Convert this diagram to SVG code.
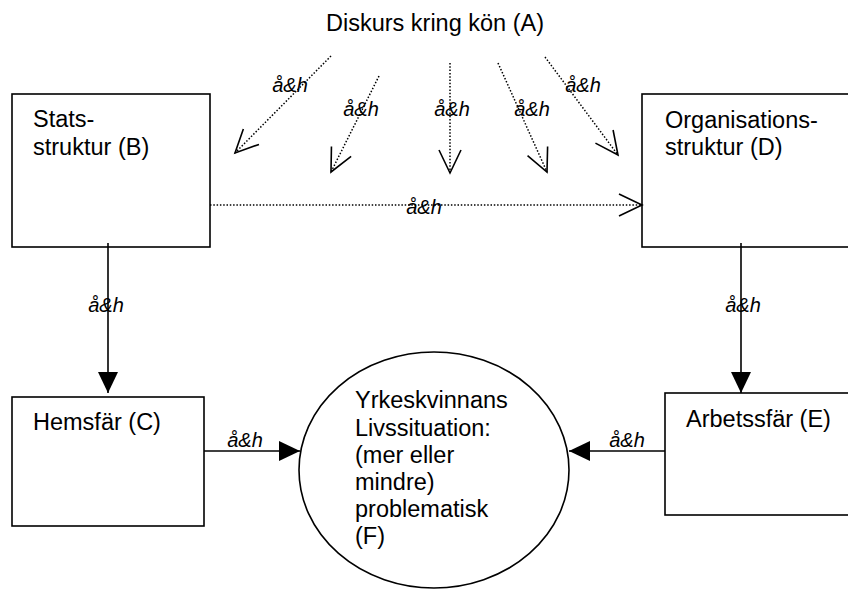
<svg xmlns="http://www.w3.org/2000/svg" width="848" height="590" viewBox="0 0 848 590">
<style>
  .box { fill: none; stroke: #000; stroke-width: 1.6; }
  .t { font-family: "Liberation Sans", Arial, sans-serif; font-size: 23.5px; fill: #000; }
  .lbl { font-family: "Liberation Sans", Arial, sans-serif; font-size: 20px; font-style: italic; fill: #000; text-anchor: middle; }
  .dot { stroke: #000; stroke-width: 1.5; stroke-dasharray: 1.5 1.8; fill: none; }
  .solid { stroke: #000; stroke-width: 1.6; fill: none; }
</style>
<defs>
  <marker id="open" markerUnits="userSpaceOnUse" markerWidth="30" markerHeight="30" viewBox="-26 -15 30 30" refX="0" refY="0" orient="auto">
    <path d="M-23,-11 L0,0 L-23,11" fill="none" stroke="#000" stroke-width="1.6"/>
  </marker>
  <marker id="filled" markerUnits="userSpaceOnUse" markerWidth="26" markerHeight="26" viewBox="-24 -12 26 24" refX="0" refY="0" orient="auto">
    <path d="M-21,-10 L0,0 L-21,10 Z" fill="#000"/>
  </marker>
</defs>
<rect width="848" height="590" fill="#fff"/>

<g id="connectors">
  <line class="dot" x1="331" y1="56" x2="235" y2="153" marker-end="url(#open)"/>
  <line class="dot" x1="379" y1="76" x2="331" y2="172" marker-end="url(#open)"/>
  <line class="dot" x1="450" y1="63" x2="450" y2="173" marker-end="url(#open)"/>
  <line class="dot" x1="498" y1="63" x2="547" y2="172" marker-end="url(#open)"/>
  <line class="dot" x1="545" y1="57" x2="618" y2="155" marker-end="url(#open)"/>
  <line class="dot" x1="210" y1="205" x2="642" y2="205" marker-end="url(#open)"/>
  <line class="solid" x1="108" y1="243" x2="108" y2="393" marker-end="url(#filled)"/>
  <line class="solid" x1="741" y1="243" x2="741" y2="393" marker-end="url(#filled)"/>
  <line class="solid" x1="204" y1="451" x2="300" y2="451" marker-end="url(#filled)"/>
  <line class="solid" x1="665" y1="451" x2="569" y2="451" marker-end="url(#filled)"/>
  <text class="lbl" x="290" y="92">å&amp;h</text>
  <text class="lbl" x="361" y="116">å&amp;h</text>
  <text class="lbl" x="452" y="116">å&amp;h</text>
  <text class="lbl" x="532" y="116">å&amp;h</text>
  <text class="lbl" x="583" y="92">å&amp;h</text>
  <text class="lbl" x="424" y="214">å&amp;h</text>
  <text class="lbl" x="106" y="312">å&amp;h</text>
  <text class="lbl" x="743" y="312">å&amp;h</text>
  <text class="lbl" x="245" y="447">å&amp;h</text>
  <text class="lbl" x="627" y="447">å&amp;h</text>
</g>

<g id="nodeA">
  <text class="t" x="435" y="31" text-anchor="middle">Diskurs kring kön (A)</text>
</g>
<g id="nodeB">
  <rect class="box" x="12" y="94" width="198" height="153"/>
  <text class="t" x="33" y="127">Stats-</text>
  <text class="t" x="33" y="155">struktur (B)</text>
</g>
<g id="nodeD">
  <rect class="box" x="642" y="94" width="220" height="153"/>
  <text class="t" x="665" y="128">Organisations-</text>
  <text class="t" x="665" y="155">struktur (D)</text>
</g>
<g id="nodeC">
  <rect class="box" x="12" y="397" width="192" height="129"/>
  <text class="t" x="33" y="430">Hemsfär (C)</text>
</g>
<g id="nodeE">
  <rect class="box" x="665" y="393" width="200" height="122"/>
  <text class="t" x="686" y="427">Arbetssfär (E)</text>
</g>
<g id="nodeF">
  <ellipse class="box" cx="434" cy="470" rx="135" ry="118"/>
  <text class="t" x="355" y="408">Yrkeskvinnans</text>
  <text class="t" x="355" y="436">Livssituation:</text>
  <text class="t" x="355" y="463">(mer eller</text>
  <text class="t" x="355" y="490">mindre)</text>
  <text class="t" x="355" y="517">problematisk</text>
  <text class="t" x="355" y="544">(F)</text>
</g>
</svg>
